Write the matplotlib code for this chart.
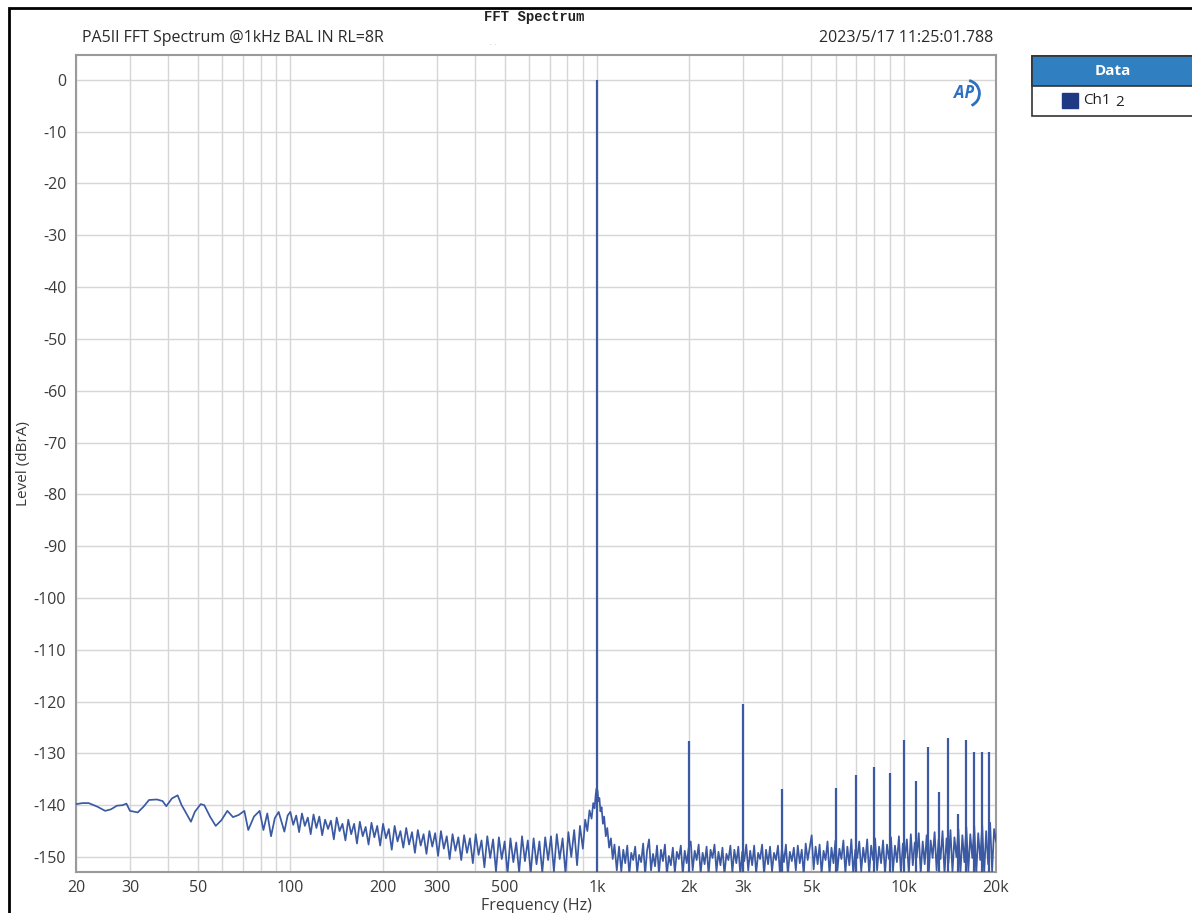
import matplotlib
matplotlib.use("Agg")
import matplotlib.pyplot as plt
from matplotlib.patches import Rectangle, Arc

plt.rcParams["font.family"] = ["Open Sans", "DejaVu Sans"]

# ---- data (Hz, dBrA) ----
low_band = [
    (20, -139.8), (21, -139.6), (22, -139.6), (23.5, -140.3), (24.9, -141.1),
    (26.0, -140.8), (27.2, -140.1), (28.4, -140.0), (29.2, -139.7), (30.0, -141.1),
    (31.8, -141.4), (33.2, -140.3), (34.6, -139.0), (36.7, -138.9), (38.3, -139.2),
    (39.4, -140.2), (41.1, -138.7), (42.9, -138.1), (44.2, -140.0), (45.5, -141.3),
    (47.4, -143.2), (48.8, -141.3), (51.0, -139.8), (52.4, -140.0), (54.7, -142.2),
    (57.1, -144.0), (59.6, -142.9), (62.3, -141.1), (65.0, -142.3), (67.8, -141.9),
    (70.8, -141.1), (72.9, -144.8), (76.1, -142.2), (79.4, -141.1), (81.7, -144.8),
    (84.1, -141.6), (86.5, -146.0), (89.0, -142.5), (91.6, -141.3), (95.6, -145.1),
    (98.0, -142.0),
]

mid_freq = [
    100, 102.2, 104.5, 106.8, 109.1, 111.5, 114, 116.5, 119, 121.6,
    124.3, 127, 129.8, 132.7, 135.6, 138.6, 141.6, 144.7, 147.9, 151.2,
    154.5, 157.9, 161.4, 164.9, 168.5, 172.2, 176, 179.9, 183.9, 187.9,
    192, 196.3, 200.6, 205, 209.5, 214.1, 218.8, 223.6, 228.5, 233.5,
    238.7, 243.9, 249.3, 254.8, 260.4, 266.1, 271.9, 277.9, 284, 290.3,
    296.6, 303.2, 309.8, 316.6, 323.6, 330.7, 338, 345.4, 353, 360.8,
    368.7, 376.8, 385.1, 393.6, 402.2, 411, 420.1, 429.3, 438.7, 448.4,
    458.2, 468.3, 478.6, 489.1, 499.8, 510.8, 522, 533.5, 545.2, 557.2,
    569.5, 582, 594.8, 607.8, 621.2, 634.9, 648.8, 663.1, 677.7, 692.6,
    707.8, 723.4, 739.3, 755.6, 772.2, 789.2, 806.5, 824.3, 842.4, 860.9,
    879.9, 899.2,
]
mid_level = [
    -141.3, -143.8, -142.0, -145.2, -141.6, -144.0, -142.4, -145.6, -141.8, -144.4,
    -142.2, -145.8, -142.8, -144.6, -143.0, -146.6, -142.4, -145.0, -143.6, -146.8,
    -142.8, -145.6, -143.6, -147.4, -143.2, -146.0, -144.2, -147.6, -143.4, -146.2,
    -144.0, -147.8, -143.6, -146.4, -144.6, -148.6, -144.0, -147.0, -145.0, -148.2,
    -144.4, -147.6, -145.2, -149.2, -144.8, -147.8, -145.6, -149.4, -145.0, -148.0,
    -145.4, -149.8, -145.0, -148.4, -146.0, -150.4, -145.6, -148.8, -146.2, -150.6,
    -145.8, -149.2, -146.4, -151.2, -145.6, -149.6, -146.8, -152.0, -146.0, -150.2,
    -146.6, -152.8, -146.2, -150.4, -147.0, -153.2, -146.4, -151.0, -147.2, -153.0,
    -146.0, -150.8, -146.8, -153.2, -146.4, -151.4, -147.0, -153.0, -146.2, -150.6,
    -146.0, -152.8, -145.6, -150.4, -146.4, -153.2, -145.2, -150.0, -144.8, -151.6,
    -144.0, -148.4,
]

# skirt of the 1 kHz tone
skirt_band = [
    (915, -142.8), (930, -145.0), (945, -141.0), (960, -142.6), (972, -139.6),
    (982, -140.6), (990, -138.0), (996, -136.8), (1004, -137.2), (1010, -139.2),
    (1018, -138.6), (1026, -141.2), (1035, -140.4), (1045, -143.6), (1055, -142.2),
    (1068, -146.0), (1080, -144.4), (1095, -148.2), (1110, -146.4), (1125, -150.4),
    (1140, -147.6), (1160, -152.6), (1180, -148.0),
]

high_freq = [
    1200, 1218, 1236, 1255, 1274, 1293, 1312, 1332, 1352, 1372,
    1393, 1414, 1435, 1456, 1478, 1500, 1523, 1546, 1569, 1592,
    1616, 1640, 1665, 1690, 1715, 1741, 1767, 1794, 1821, 1848,
    1876, 1904, 1932, 1961, 1991, 2021, 2051, 2082, 2113, 2145,
    2177, 2210, 2243, 2277, 2311, 2345, 2380, 2416, 2452, 2489,
    2527, 2565, 2603, 2642, 2682, 2722, 2763, 2804, 2846, 2889,
    2932, 2976, 3021, 3066, 3112, 3159, 3206, 3254, 3303, 3353,
    3403, 3454, 3506, 3558, 3612, 3666, 3721, 3777, 3833, 3891,
    3949, 4008, 4069, 4130, 4192, 4254, 4318, 4383, 4449, 4515,
    4583, 4652, 4721, 4792, 4864, 4937, 5011, 5086, 5162, 5240,
    5318, 5398, 5479, 5561, 5645, 5729, 5815, 5903, 5991, 6081,
    6172, 6265, 6359, 6454, 6551, 6649, 6749, 6850, 6953, 7057,
    7163, 7271, 7380, 7490, 7603, 7717, 7833, 7950, 8069, 8190,
    8313, 8438, 8565, 8693, 8824, 8956, 9090, 9227, 9365, 9506,
    9648, 9793, 9940, 10089, 10240, 10394, 10550, 10708, 10869, 11032,
    11197, 11365, 11536, 11709, 11884, 12063, 12244, 12427, 12614, 12803,
    12995, 13190, 13388, 13589, 13792, 13999, 14209, 14422, 14639, 14858,
    15081, 15307, 15537, 15770, 16006, 16246, 16490, 16737, 16989, 17243,
    17502, 17765, 18031, 18302, 18576, 18855, 19137, 19424, 19716, 20000,
]
high_level = [
    -152.8, -148.6, -151.2, -147.8, -153.4, -149.2, -150.6, -148.0, -153.0, -149.6,
    -151.0, -147.4, -153.4, -148.8, -146.6, -152.6, -149.4, -151.8, -147.8, -153.2,
    -148.6, -150.8, -147.6, -153.4, -149.8, -151.6, -148.2, -153.0, -149.0, -150.4,
    -147.8, -153.4, -148.8, -151.2, -148.2, -147.0, -152.6, -148.8, -150.6, -147.6,
    -153.2, -149.2, -151.4, -148.0, -153.4, -148.6, -150.2, -147.6, -152.8, -149.0,
    -151.6, -148.2, -153.4, -149.4, -150.6, -147.8, -153.0, -148.6, -151.2, -148.0,
    -153.4, -149.0, -150.8, -147.6, -152.6, -148.8, -151.6, -147.8, -153.2, -149.2,
    -150.4, -147.6, -153.4, -148.6, -151.4, -148.0, -152.8, -149.2, -150.6, -147.8,
    -153.2, -148.4, -151.0, -147.6, -153.4, -149.0, -150.8, -148.2, -152.6, -147.8,
    -151.2, -148.6, -153.4, -147.4, -150.6, -148.2, -145.8, -152.4, -148.0, -151.4,
    -147.6, -153.2, -148.8, -150.6, -147.0, -153.4, -148.2, -151.2, -146.8, -152.6,
    -148.4, -150.4, -146.8, -153.2, -148.0, -151.6, -146.6, -153.4, -148.6, -150.2,
    -147.0, -152.8, -148.2, -151.0, -146.6, -153.4, -147.8, -150.6, -146.4, -152.6,
    -148.0, -151.2, -146.8, -153.4, -147.6, -150.4, -146.2, -152.8, -147.8, -151.0,
    -146.0, -153.2, -147.4, -150.2, -146.6, -153.4, -145.6, -151.6, -147.2, -150.0,
    -145.4, -153.2, -147.0, -151.4, -145.8, -153.4, -146.8, -150.2, -145.2, -152.6,
    -146.6, -150.4, -145.0, -153.4, -146.4, -151.2, -144.8, -153.0, -146.2, -150.0,
    -144.6, -153.4, -145.8, -151.0, -144.2, -152.8, -145.6, -150.2, -144.0, -153.4,
    -145.4, -150.6, -143.8, -153.2, -145.0, -151.4, -143.4, -152.8, -144.6, -147.0,
]

# fundamental and harmonic spikes
spike_freq = [1000, 2000, 3000, 4000, 6000, 7000, 8000, 9000, 10000, 11000,
              12000, 13000, 14000, 15000, 16000, 17000, 18000, 19000]
spike_level = [0.0, -127.7, -120.5, -136.9, -136.6, -134.2, -132.6, -133.7, -127.4, -135.3,
               -128.8, -137.5, -127.1, -141.8, -127.4, -129.8, -129.8, -129.8]

x_ticks = [20, 30, 50, 100, 200, 300, 500, 1000, 2000, 3000, 5000, 10000, 20000]
x_labels = ["20", "30", "50", "100", "200", "300", "500", "1k", "2k", "3k", "5k", "10k", "20k"]
x_grid = [20, 30, 40, 50, 60, 70, 80, 90, 100, 200, 300, 400, 500, 600, 700, 800, 900,
          1000, 2000, 3000, 4000, 5000, 6000, 7000, 8000, 9000, 10000, 20000]
y_ticks = list(range(0, -151, -10))

LINE = "#3b5aa3"
W, H = 1192, 913
Y_MIN, Y_MAX = -152.9, 4.8


def fx(px):
    return px / W


def fy(py):
    return 1 - py / H


fig = plt.figure(figsize=(W / 100, H / 100), dpi=100)
ax = fig.add_axes([fx(76), fy(872), (996 - 76) / W, (872 - 55) / H])

trace_f = [p[0] for p in low_band] + mid_freq + [p[0] for p in skirt_band] + high_freq
trace_l = [p[1] for p in low_band] + mid_level + [p[1] for p in skirt_band] + high_level
ax.plot(trace_f, trace_l, color=LINE, lw=1.25, zorder=3)
ax.vlines(spike_freq, Y_MIN, spike_level, color=LINE, lw=1.6, zorder=3)

ax.set_xscale("log")
ax.set_xlim(20, 20000)
ax.set_ylim(Y_MIN, Y_MAX)
ax.set_xticks(x_ticks)
ax.set_xticklabels(x_labels)
ax.set_xticks(x_grid, minor=True)
ax.set_xticklabels([], minor=True)
ax.set_yticks(y_ticks)
ax.set_yticklabels([str(v) for v in y_ticks])
ax.grid(True, which="both", axis="x", color="#d6d6d6", lw=1.0)
ax.grid(True, which="major", axis="y", color="#d6d6d6", lw=1.0)
ax.set_axisbelow(True)
ax.tick_params(which="both", length=0, labelsize=11.5, colors="#3a3a3a")
ax.tick_params(axis="x", pad=6)
ax.tick_params(axis="y", pad=7)
for s in ax.spines.values():
    s.set_color("#9a9a9a")
    s.set_linewidth(1.5)

ax.set_xlabel("Frequency (Hz)", fontsize=11.5, color="#3a3a3a", labelpad=1)
ax.set_ylabel("Level (dBrA)", fontsize=11, color="#3a3a3a", labelpad=2)

# titles
fig.text(fx(534), fy(17), "FFT Spectrum", family=["Liberation Mono", "DejaVu Sans Mono"],
         fontsize=10, fontweight="bold", ha="center", va="center", color="#222222")
fig.text(fx(493), fy(45), "- -", fontsize=6, ha="center", va="center", color="#cfcfcf")
fig.text(fx(82), fy(38), "PA5II FFT Spectrum @1kHz BAL IN RL=8R", fontsize=11.5,
         ha="left", va="center", color="#2a2a2a")
fig.text(fx(993), fy(38), "2023/5/17 11:25:01.788", fontsize=11.5,
         ha="right", va="center", color="#2a2a2a")

# AP logo
ax.text(0.965, 0.953, "AP", transform=ax.transAxes, fontsize=12, fontweight="bold",
        fontstyle="italic", color="#2f6fc0", ha="center", va="center", zorder=5)
ax.add_patch(Arc((0.968, 0.953), 0.028, 0.032, theta1=-70, theta2=80,
                 transform=ax.transAxes, color="#2f6fc0", lw=2.0, zorder=5))

# legend panel
fig.patches.append(Rectangle((fx(1032), fy(116)), (1200 - 1032) / W, (116 - 56) / H,
                             transform=fig.transFigure, facecolor="white",
                             edgecolor="#333333", lw=1.2))
fig.patches.append(Rectangle((fx(1032), fy(86)), (1200 - 1032) / W, (86 - 56) / H,
                             transform=fig.transFigure, facecolor="#2f7fc1",
                             edgecolor="#333333", lw=1.2))
fig.text(fx(1113), fy(71), "Data", fontsize=11, fontweight="bold", color="white",
         ha="center", va="center")
fig.patches.append(Rectangle((fx(1062), fy(108)), 16 / W, 15 / H,
                             transform=fig.transFigure, facecolor="#1f3a82",
                             edgecolor="#1f3a82"))
fig.text(fx(1083), fy(100), "Ch1", fontsize=11, color="#222222", ha="left", va="center")
fig.text(fx(1115), fy(103), "2", fontsize=11, color="#222222", ha="left", va="center")

# outer frame of the screenshot
fig.patches.append(Rectangle((fx(9), fy(930)), (1220 - 9) / W, (930 - 8) / H,
                             transform=fig.transFigure, facecolor="none",
                             edgecolor="black", lw=2.0))

fig.savefig("out.png", dpi=100)
